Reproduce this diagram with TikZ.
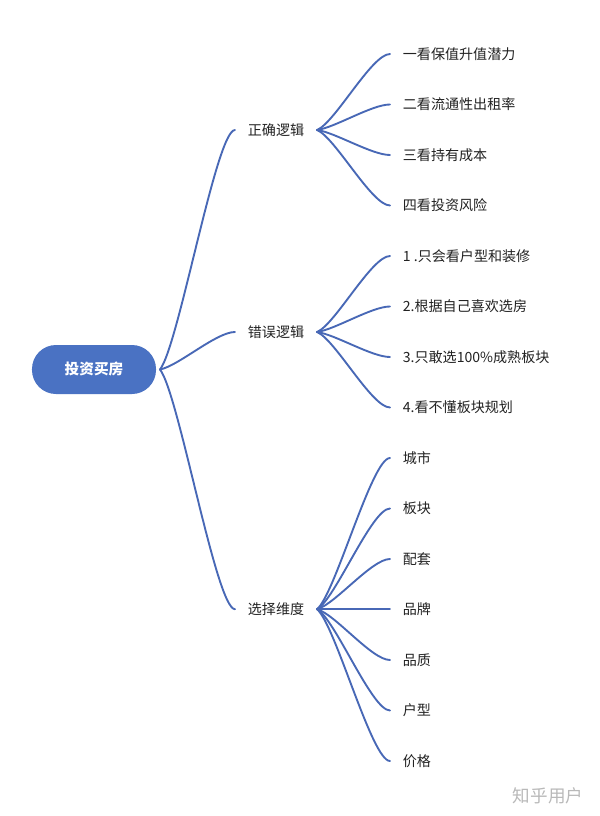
\documentclass[tikz,border=0pt]{standalone}
\usepackage{fontspec}
\setmainfont{Noto Sans CJK SC}
\usepackage{tikz}
\usetikzlibrary{calc,positioning}
\usepackage{xcolor}
\definecolor{MapBlue}{HTML}{4A72C3}
\definecolor{MapLine}{HTML}{4868B6}
\definecolor{MapText}{HTML}{222222}
\definecolor{MapMark}{HTML}{B9B9B9}
\tikzset{
  px/.style={x=0.03cm,y=-0.03cm},
  rootnode/.style={fill=MapBlue,text=white,rounded corners=0.72cm,minimum width=3.72cm,minimum height=1.47cm,font=\fontsize{12.5}{14}\selectfont\bfseries,outer xsep=0.12cm},
  topicnode/.style={text=MapText,anchor=west,inner xsep=0.38cm,inner ysep=2pt,font=\fontsize{12}{14}\selectfont},
  branchline/.style={draw=MapLine,line width=1.6pt,line cap=round,
    to path={.. controls ($(\tikztostart)!0.25!(\tikztotarget |- \tikztostart) + 0.1*(\tikztotarget) - 0.1*(\tikztotarget |- \tikztostart)$)
      and ($(\tikztotarget)!0.25!(\tikztostart |- \tikztotarget)$) .. (\tikztotarget)}},
  watermark/.style={text=MapMark,font=\fontsize{15}{18}\selectfont}
}
\begin{document}
\begin{tikzpicture}[px]
  \useasboundingbox[fill=white] (0,0) rectangle (600,816);

  \node[rootnode] (invest) at (94,369.5) {投资买房};

  \node[topicnode] (good) at (235,130) {正确逻辑};
  \node[topicnode] (bad) at (235,332) {错误逻辑};
  \node[topicnode] (pick) at (235,609.2) {选择维度};

  \node[topicnode] (good1) at (390,54) {一看保值升值潜力};
  \node[topicnode] (good2) at (390,104.5) {二看流通性出租率};
  \node[topicnode] (good3) at (390,155) {三看持有成本};
  \node[topicnode] (good4) at (390,205.5) {四看投资风险};

  \node[topicnode] (bad1) at (390,256) {1 .只会看户型和装修};
  \node[topicnode] (bad2) at (390,306.5) {2.根据自己喜欢选房};
  \node[topicnode] (bad3) at (390,357) {3.只敢选100\%成熟板块};
  \node[topicnode] (bad4) at (390,407.5) {4.看不懂板块规划};

  \node[topicnode] (pick1) at (390,458) {城市};
  \node[topicnode] (pick2) at (390,508.5) {板块};
  \node[topicnode] (pick3) at (390,559) {配套};
  \node[topicnode] (pick4) at (390,609.2) {品牌};
  \node[topicnode] (pick5) at (390,660) {品质};
  \node[topicnode] (pick6) at (390,710.5) {户型};
  \node[topicnode] (pick7) at (390,761) {价格};

  \draw[branchline] (invest.east) to (good.west);
  \draw[branchline] (invest.east) to (bad.west);
  \draw[branchline] (invest.east) to (pick.west);

  \draw[branchline] (good.east) to (good1.west);
  \draw[branchline] (good.east) to (good2.west);
  \draw[branchline] (good.east) to (good3.west);
  \draw[branchline] (good.east) to (good4.west);

  \draw[branchline] (bad.east) to (bad1.west);
  \draw[branchline] (bad.east) to (bad2.west);
  \draw[branchline] (bad.east) to (bad3.west);
  \draw[branchline] (bad.east) to (bad4.west);

  \draw[branchline] (pick.east) to (pick1.west);
  \draw[branchline] (pick.east) to (pick2.west);
  \draw[branchline] (pick.east) to (pick3.west);
  \draw[branchline] (pick.east) -- (pick4.west);
  \draw[branchline] (pick.east) to (pick5.west);
  \draw[branchline] (pick.east) to (pick6.west);
  \draw[branchline] (pick.east) to (pick7.west);

  \node[watermark] (zhihu) at (548,796) {知乎用户};
\end{tikzpicture}
\end{document}
